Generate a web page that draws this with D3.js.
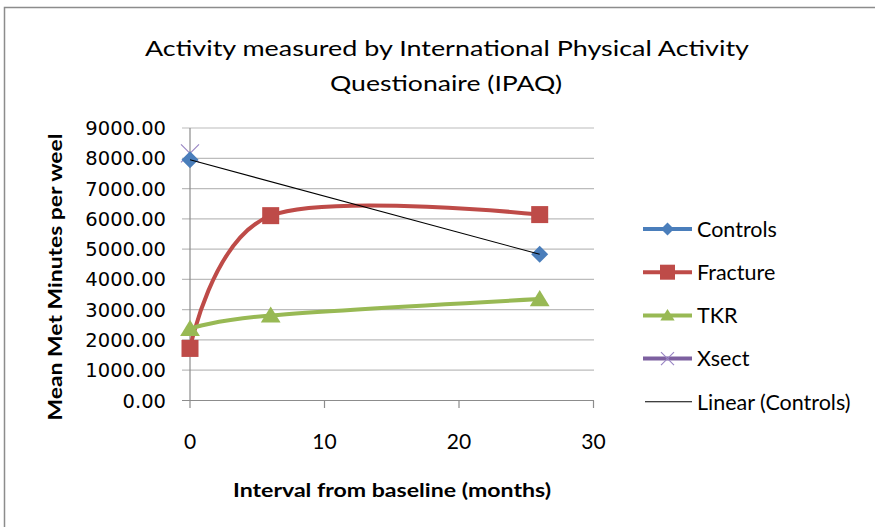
<!DOCTYPE html>
<html>
<meta charset="utf-8">
<title>IPAQ Activity</title>
<script src="https://d3js.org/d3.v7.min.js"></script>
<style>
body { margin: 0; background: #fff; }
text { fill: #000; }
.ytick { font-family: "DejaVu Sans", sans-serif; font-size: 19.5px; }
.xtick, .legend, .title { font-family: Lato, sans-serif; }
</style>
<body>
<svg width="875" height="527"></svg>
<script>
// data
var seriesNames = ["Controls", "Fracture", "TKR", "Xsect"];
var controlsMonths = [0, 26];
var controlsValues = [7950, 4830];
var fractureMonths = [0, 6, 26];
var fractureValues = [1720, 6105, 6140];
var tkrMonths = [0, 6, 26];
var tkrValues = [2370, 2810, 3350];
var xsectMonths = [0];
var xsectValues = [8160];
var yTicks = [0, 1000, 2000, 3000, 4000, 5000, 6000, 7000, 8000, 9000];
var xTicks = [0, 10, 20, 30];

var colors = { Controls: "#4a7ebb", Fracture: "#be4b48", TKR: "#98b954", Xsect: "#7d60a0" };

var svg = d3.select("svg");

var x = d3.scaleLinear().domain([0, 30]).range([190, 593.5]),
    y = d3.scaleLinear().domain([0, 9000]).range([400.5, 128]);

function pts(ms, vs) { return ms.map(function(m, i) { return [m, vs[i]]; }); }

// outer chart border
svg.append("rect")
  .attr("x", 4.5).attr("y", 7.5).attr("width", 900).attr("height", 600)
  .attr("fill", "#fff").attr("stroke", "#8c8c8c").attr("stroke-width", 1.5);

// title
var title = svg.append("text").attr("class", "title")
  .attr("text-anchor", "middle").style("font-size", "22px");
title.append("tspan").attr("x", 447).attr("y", 56)
  .attr("textLength", 604).attr("lengthAdjust", "spacingAndGlyphs")
  .text("Activity measured by International  Physical Activity");
title.append("tspan").attr("x", 446).attr("y", 91)
  .attr("textLength", 232).attr("lengthAdjust", "spacingAndGlyphs")
  .text("Questionaire (IPAQ)");

// gridlines + y ticks
svg.append("g").selectAll("line").data(yTicks).enter().append("line")
  .attr("x1", 182).attr("x2", 594)
  .attr("y1", function(d) { return y(d); }).attr("y2", function(d) { return y(d); })
  .attr("stroke", function(d) { return d === 0 ? "#8c8c8c" : "#bcbcbc"; })
  .attr("stroke-width", 1.2);

svg.append("g").selectAll("text").data(yTicks).enter().append("text")
  .attr("class", "ytick")
  .attr("x", 166).attr("y", function(d) { return y(d); })
  .attr("dy", "0.36em").attr("text-anchor", "end")
  .attr("fill", "#222")
  .text(function(d) { return d3.format(".2f")(d); });

// y axis line
svg.append("line").attr("x1", x(0)).attr("x2", x(0))
  .attr("y1", y(9000)).attr("y2", 408)
  .attr("stroke", "#8c8c8c").attr("stroke-width", 1.2);

// x ticks
svg.append("g").selectAll("line").data(xTicks.slice(1)).enter().append("line")
  .attr("x1", function(d) { return x(d); }).attr("x2", function(d) { return x(d); })
  .attr("y1", y(0)).attr("y2", 408)
  .attr("stroke", "#8c8c8c").attr("stroke-width", 1.2);

svg.append("g").selectAll("text").data(xTicks).enter().append("text")
  .attr("class", "xtick")
  .attr("x", function(d) { return x(d); }).attr("y", 449)
  .attr("text-anchor", "middle").style("font-size", "21px")
  .text(function(d) { return d; });

// axis titles
svg.append("text")
  .attr("transform", "translate(62,277) rotate(-90)")
  .attr("text-anchor", "middle")
  .style("font-family", "Lato, sans-serif").style("font-weight", "bold").style("font-size", "19px")
  .attr("textLength", 287).attr("lengthAdjust", "spacingAndGlyphs")
  .text("Mean Met Minutes per weel");

svg.append("text")
  .attr("x", 392).attr("y", 497)
  .attr("text-anchor", "middle")
  .style("font-family", "Lato, sans-serif").style("font-weight", "bold").style("font-size", "19px")
  .attr("textLength", 318).attr("lengthAdjust", "spacingAndGlyphs")
  .text("Interval from baseline (months)");

// smoothed lines
var line = d3.line()
  .x(function(d) { return x(d[0]); })
  .y(function(d) { return y(d[1]); })
  .curve(d3.curveCardinal.tension(0));

svg.append("path").datum(pts(fractureMonths, fractureValues))
  .attr("d", line).attr("fill", "none")
  .attr("stroke", colors.Fracture).attr("stroke-width", 4);
svg.append("path").datum(pts(tkrMonths, tkrValues))
  .attr("d", line).attr("fill", "none")
  .attr("stroke", colors.TKR).attr("stroke-width", 4);

// markers
function marker(g, name, cx, cy, s) {
  if (name === "Controls") {
    g.append("path").attr("transform", "translate(" + cx + "," + cy + ")")
      .attr("d", "M0," + (-s) + "L" + s + ",0L0," + s + "L" + (-s) + ",0Z")
      .attr("fill", colors.Controls);
  } else if (name === "Fracture") {
    g.append("rect").attr("x", cx - s).attr("y", cy - s)
      .attr("width", 2 * s).attr("height", 2 * s).attr("fill", colors.Fracture);
  } else if (name === "TKR") {
    g.append("path").attr("transform", "translate(" + cx + "," + cy + ")")
      .attr("d", "M0," + (-s) + "L" + (s * 1.1) + "," + (s * 0.8) + "L" + (-s * 1.1) + "," + (s * 0.8) + "Z")
      .attr("fill", colors.TKR);
  } else {
    g.append("path").attr("transform", "translate(" + cx + "," + cy + ")")
      .attr("d", "M" + (-s) + "," + (-s) + "L" + s + "," + s + "M" + s + "," + (-s) + "L" + (-s) + "," + s)
      .attr("stroke", "#9a86c4").attr("stroke-width", 1.2).attr("fill", "none");
  }
}

var mk = svg.append("g");
pts(xsectMonths, xsectValues).forEach(function(p) { marker(mk, "Xsect", x(p[0]), y(p[1]), 9); });
pts(controlsMonths, controlsValues).forEach(function(p) { marker(mk, "Controls", x(p[0]), y(p[1]), 8.5); });
pts(fractureMonths, fractureValues).forEach(function(p) { marker(mk, "Fracture", x(p[0]), y(p[1]), 8.5); });
pts(tkrMonths, tkrValues).forEach(function(p) { marker(mk, "TKR", x(p[0]), y(p[1]), 9); });

// linear trendline for controls (least squares)
var mx = d3.mean(controlsMonths), my = d3.mean(controlsValues),
    sxy = d3.sum(controlsMonths, function(m, i) { return (m - mx) * (controlsValues[i] - my); }),
    sxx = d3.sum(controlsMonths, function(m) { return (m - mx) * (m - mx); }),
    slope = sxy / sxx, icpt = my - slope * mx;
var xr = d3.extent(controlsMonths);
svg.append("line")
  .attr("x1", x(xr[0])).attr("y1", y(icpt + slope * xr[0]))
  .attr("x2", x(xr[1])).attr("y2", y(icpt + slope * xr[1]))
  .attr("stroke", "#000").attr("stroke-width", 1.1);

// legend
var legendNames = seriesNames.concat(["Linear (Controls)"]);
var lg = svg.append("g");
legendNames.forEach(function(name, i) {
  var ly = 229 + i * 43.2;
  if (i < 4) {
    lg.append("line").attr("x1", 643).attr("x2", 692).attr("y1", ly).attr("y2", ly)
      .attr("stroke", colors[name]).attr("stroke-width", 4);
    marker(lg, name, 667.5, ly, name === "Fracture" ? 7.5 : 6.5);
  } else {
    lg.append("line").attr("x1", 645).attr("x2", 692).attr("y1", ly).attr("y2", ly)
      .attr("stroke", "#000").attr("stroke-width", 1.1);
  }
  lg.append("text").attr("class", "legend")
    .attr("x", 697).attr("y", ly).attr("dy", "0.36em")
    .style("font-size", "21.5px")
    .text(name);
});
</script>
</body>
</html>
